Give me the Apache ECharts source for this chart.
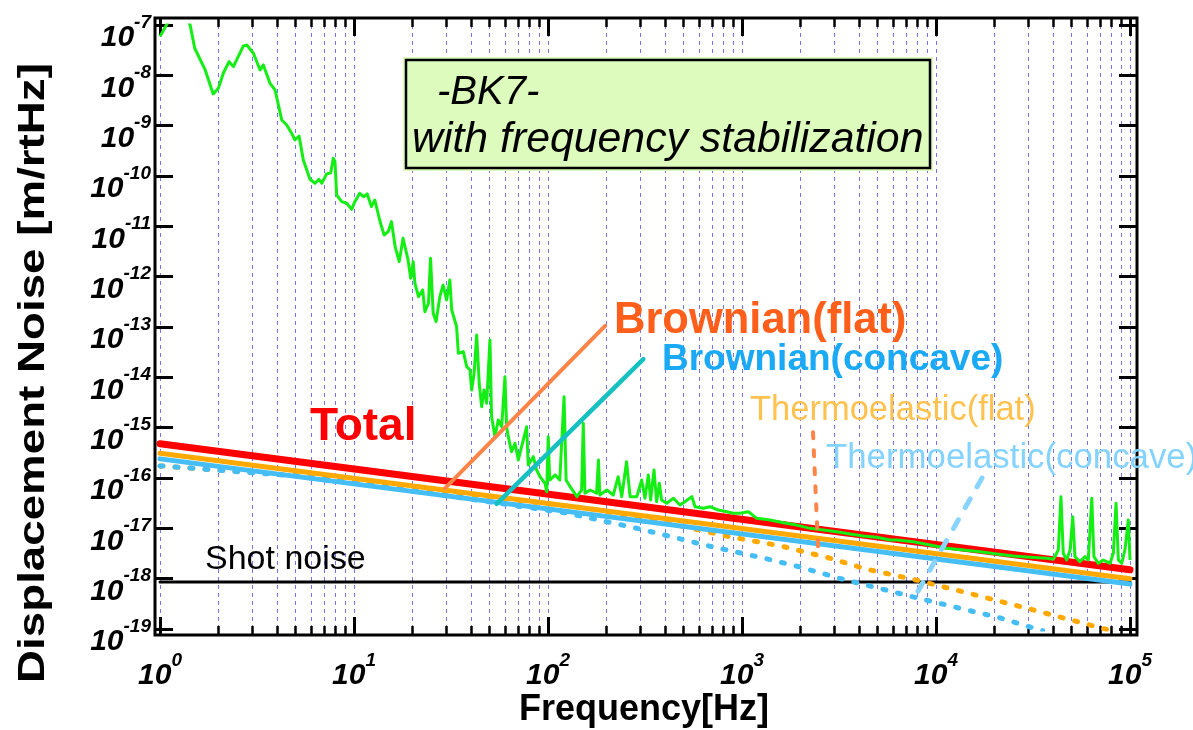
<!DOCTYPE html>
<html><head><meta charset="utf-8">
<script src="https://cdn.jsdelivr.net/npm/echarts@6/dist/echarts.min.js"></script>
<style>html,body{margin:0;padding:0;background:#fff}#c{width:1193px;height:730px}</style>
</head><body><div id="c"></div>
<script>
// ---- data (frequency in Hz, displacement noise in m/rtHz) ----
const xTicks = [1, 10, 100, 1000, 10000, 100000];
const yTicks = [1e-19, 1e-18, 1e-17, 1e-16, 1e-15, 1e-14, 1e-13, 1e-12, 1e-11, 1e-10, 1e-9, 1e-8, 1e-7];
const total = [[1, 4.8e-16], [1e5, 1.5e-18]];
const brownianFlat = [[1, 3.1e-16], [1e5, 1.0e-18]];
const brownianConcave = [[1, 2.4e-16], [1e5, 7.8e-19]];
const thermoFlat = [[1, 1.74e-16], [5.0, 1.12e-16], [15.8, 7.41e-17], [56, 3.98e-17], [158, 2.51e-17], [347, 1.48e-17], [871, 6.76e-18], [1585, 4.47e-18], [2818, 2.57e-18], [4365, 1.55e-18], [7586, 9.77e-19], [14450, 5.25e-19], [31620, 2.40e-19], [70790, 1.05e-19], [79430, 9.3e-20]];
const thermoConcave = [[1, 1.74e-16], [5.0, 1.10e-16], [15.8, 6.31e-17], [39.8, 3.80e-17], [126, 2.0e-17], [288, 1.0e-17], [708, 4.27e-18], [1288, 2.57e-18], [1995, 1.70e-18], [3162, 1.02e-18], [7943, 4.17e-19], [21380, 1.66e-19], [31620, 1.05e-19], [35480, 9.3e-20]];
const shotNoise = [[1, 8.6e-19], [1e5, 8.6e-19]];
const measured = [[1,5.9e-8],[1.08,1.0e-7],[1.25,3e-7],[1.43,1.0e-7],[1.51,3.45e-8],[1.71,1.28e-8],[1.88,4.27e-9],[2.0,5.53e-9],[2.12,1.1e-8],[2.27,1.87e-8],[2.39,1.49e-8],[2.53,2.35e-8],[2.69,3.83e-8],[2.8,4.01e-8],[3.03,2.74e-8],[3.28,1.28e-8],[3.41,1.61e-8],[3.69,6.95e-9],[3.92,5.12e-9],[4.24,1.3e-9],[4.5,1.03e-9],[4.77,7.06e-10],[4.96,5.2e-10],[5.21,6.24e-10],[5.48,2.08e-10],[5.93,8.61e-11],[6.3,7.18e-11],[6.6,8.61e-11],[6.82,7.18e-11],[7.23,1.1e-10],[7.59,1.16e-10],[7.82,2.25e-10],[7.98,1.93e-10],[8.14,4.2e-11],[8.64,3.09e-11],[9.17,2.87e-11],[9.73,2.18e-11],[10.1,3.09e-11],[10.7,4.54e-11],[11.2,3.88e-11],[11.7,4.4e-11],[12.3,2.46e-11],[12.8,3.34e-11],[13.3,1.82e-11],[13.7,1.15e-11],[14.3,6.73e-12],[15.0,7.83e-12],[15.6,1.24e-11],[16.3,3.94e-12],[17.1,1.99e-12],[17.9,5.79e-12],[19.0,2.15e-12],[19.6,9.29e-13],[20.2,1.99e-12],[20.6,7.4e-13],[21.5,4.01e-13],[22.6,5.45e-13],[23.2,2.01e-13],[24.2,2.96e-13],[24.8,2.32e-12],[25.6,1.87e-13],[26.5,1.28e-13],[27.7,4.01e-13],[28.8,6.84e-13],[30.0,3.44e-13],[31.2,8.59e-13],[31.9,2.18e-13],[33.8,1.01e-13],[34.5,3.01e-14],[36.6,3.24e-14],[38.1,1.63e-14],[39.6,1.4e-14],[40.4,5.61e-15],[41.6,1.2e-14],[42.9,6.93e-14],[44.2,7.62e-15],[45.5,2.61e-15],[46.8,5.61e-15],[48.3,3.05e-15],[50.2,5.52e-14],[51.2,1.65e-15],[53.3,6.62e-16],[55.4,1.42e-15],[56.6,1.53e-15],[57.7,1.04e-15],[60.0,1.03e-14],[61.2,1.04e-15],[62.4,6.62e-16],[64.9,3.33e-16],[67.6,4.9e-16],[70.3,2.28e-16],[73.1,4.19e-16],[77.6,1.04e-15],[79.1,1.81e-16],[84.0,2.65e-16],[87.4,1.44e-16],[91.0,1.06e-16],[96.5,7.85e-17],[98.5,5.35e-17],[100.3,6.62e-16],[102,9.12e-17],[109,1.15e-16],[115,9.12e-17],[121,4.13e-15],[124,9.12e-17],[130,6.71e-17],[141,4.26e-17],[149,5.78e-17],[152,1.22e-15],[155,4.97e-17],[165,5.78e-17],[178,4.97e-17],[182,2.28e-16],[185,4.59e-17],[201,5.78e-17],[217,4.59e-17],[230,1.06e-16],[240,4.26e-17],[254,2.11e-16],[265,4.26e-17],[287,4.26e-17],[304,9.12e-17],[316,3.95e-17],[329,1.15e-16],[338,3.66e-17],[352,1.44e-16],[363,3.38e-17],[375,7.85e-17],[385,3.66e-17],[409,3.14e-17],[443,3.95e-17],[479,2.91e-17],[508,3.38e-17],[551,4.26e-17],[573,2.69e-17],[632,2.5e-17],[684,2.69e-17],[755,2.31e-17],[834,2.14e-17],[902,1.99e-17],[977,1.99e-17],[1079,2.14e-17],[1191,1.58e-17],[1394,1.47e-17],[1633,1.29e-17],[1915,1.16e-17],[2242,1.0e-17],[2624,9.27e-18],[3077,8.57e-18],[3603,7.73e-18],[4217,7.05e-18],[4943,6.64e-18],[5794,5.86e-18],[6270,5.86e-18],[7638,5.43e-18],[9310,4.67e-18],[11350,4.01e-18],[13830,3.72e-18],[16870,3.44e-18],[20560,3.09e-18],[25020,2.82e-18],[30530,2.66e-18],[37220,2.54e-18],[40270,2.43e-18],[42700,3.72e-18],[44060,4.26e-17],[45290,3.19e-18],[47180,2.35e-18],[49090,3.72e-18],[50700,1.7e-17],[52030,2.74e-18],[55210,2.17e-18],[58590,2.74e-18],[60960,2.35e-18],[63530,3.95e-17],[65160,2.74e-18],[68700,2.02e-18],[72790,2.35e-18],[78890,2.02e-18],[82030,3.19e-18],[84720,3.14e-17],[87100,2.35e-18],[90600,2.02e-18],[94200,3.72e-18],[98000,1.47e-17],[100000,2.35e-18]];
// pointer lines from labels to curves
const ptrBrownianFlat = [[29.5, 6.3e-17], [197, 1.05e-13]];
const ptrBrownianConcave = [[54.4, 3.05e-17], [310, 2.3e-14]];
const ptrThermoFlat = [[2323, 8.1e-16], [2466, 4.3e-18]];
const ptrThermoConcave = [[17260, 1.0e-16], [7620, 3.8e-19]];

const FONT = '"Liberation Sans", Arial, Helvetica, sans-serif';
const gridLine = { color: '#7474ff', width: 1, type: [4, 4] };
const tickStyle = { color: '#000', width: 3 };
const minorStyle = { color: '#000', width: 2.5 };
const expFmt = v => '{b|10}{s|' + Math.round(Math.log10(v)) + '}';
const richLab = {
  b: { fontSize: 30, fontWeight: 'bold', fontStyle: 'italic', fontFamily: FONT, color: '#000', lineHeight: 30, verticalAlign: 'bottom' },
  s: { fontSize: 19, fontWeight: 'bold', fontStyle: 'italic', fontFamily: FONT, color: '#000', lineHeight: 40, verticalAlign: 'top' }
};

const chart = echarts.init(document.getElementById('c'));
function line(data, color, width, type, extra) {
  return Object.assign({ type: 'line', data, symbol: 'none', silent: true, clip: true,
    lineStyle: { color, width, type: type || 'solid', cap: 'round' } }, extra || {});
}
chart.setOption({
  animation: false,
  backgroundColor: '#fff',
  grid: { left: 160, right: 63, top: 25, bottom: 101 },
  xAxis: [
    { type: 'log', logBase: 10, min: 1, max: 1e5, splitNumber: 5, position: 'bottom', offset: 6,
      axisLine: { show: false },
      axisTick: { show: true, inside: true, length: 18, lineStyle: tickStyle, customValues: xTicks },
      minorTick: { show: true, splitNumber: 9, length: 9, lineStyle: minorStyle },
      axisLabel: { customValues: xTicks, margin: 16, formatter: expFmt, rich: richLab },
      splitLine: { show: true, lineStyle: gridLine },
      minorSplitLine: { show: true, lineStyle: gridLine } },
    { type: 'log', logBase: 10, min: 1, max: 1e5, splitNumber: 5, position: 'top', offset: 7,
      axisLine: { show: false },
      axisTick: { show: true, inside: true, length: 18, lineStyle: tickStyle, customValues: xTicks },
      minorTick: { show: true, splitNumber: 9, length: 9, lineStyle: minorStyle },
      axisLabel: { show: false }, splitLine: { show: false } }
  ],
  yAxis: [
    { type: 'log', logBase: 10, min: 1e-19, max: 1e-7, position: 'left', offset: 5,
      axisLine: { show: false },
      axisTick: { show: true, inside: true, length: 18, lineStyle: tickStyle, customValues: yTicks },
      axisLabel: { customValues: yTicks, margin: 4, formatter: expFmt, rich: richLab, padding: [16, 0, 0, 0] },
      splitLine: { show: false } },
    { type: 'log', logBase: 10, min: 1e-19, max: 1e-7, position: 'right', offset: 7,
      axisLine: { show: false },
      axisTick: { show: true, inside: true, length: 18, lineStyle: tickStyle, customValues: yTicks },
      axisLabel: { show: false }, splitLine: { show: false } }
  ],
  series: [
    line(shotNoise, '#000', 3, 'solid', { markLine: { silent: true, z: 1, symbol: 'none', label: { show: false },
      lineStyle: gridLine, data: yTicks.map(v => ({ yAxis: v })) } }),
    line(thermoFlat, '#ffa800', 5, [3, 12]),
    line(thermoConcave, '#45bdf5', 5, [3, 12]),
    line(brownianFlat, '#ffa800', 5),
    line(brownianConcave, '#45bdf5', 5),
    line(total, '#ff0000', 7),
    line(measured, '#14ee14', 3, 'solid', { lineStyle: { color: '#14ee14', width: 3, join: 'round' } }),
    line(ptrBrownianFlat, '#ff8447', 4),
    line(ptrBrownianConcave, '#14c0c0', 4.5),
    line(ptrThermoFlat, '#ff8447', 4, [6, 12]),
    line(ptrThermoConcave, '#88d4ff', 5, [10, 14])
  ],
  graphic: [
    { type: 'rect', z: 100, shape: { x: 155, y: 18, width: 982, height: 617 }, style: { fill: 'none', stroke: '#000', lineWidth: 3 } },
    { type: 'rect', z: 100, shape: { x: 403, y: 57, width: 530, height: 114 }, style: { fill: '#ddfbbd' } },
    { type: 'rect', z: 101, shape: { x: 406, y: 60, width: 524, height: 108 }, style: { fill: 'none', stroke: '#000', lineWidth: 2.5 } },
    { type: 'text', z: 102, x: 437, y: 93, style: { text: '-BK7-', font: 'italic 40px ' + FONT, fill: '#000', verticalAlign: 'middle' } },
    { type: 'text', z: 102, x: 412, y: 140, style: { text: 'with frequency stabilization', font: 'italic 42.8px ' + FONT, fill: '#000', verticalAlign: 'middle' } },
    { type: 'text', z: 102, x: 310, y: 427, style: { text: 'Total', font: 'bold 46px ' + FONT, fill: '#ff0000', verticalAlign: 'middle' } },
    { type: 'text', z: 102, x: 614, y: 321, style: { text: 'Brownian(flat)', font: 'bold 43.5px ' + FONT, fill: '#ff5f1a', verticalAlign: 'middle' } },
    { type: 'text', z: 102, x: 662, y: 360, style: { text: 'Brownian(concave)', font: 'bold 37px ' + FONT, fill: '#19a9f5', verticalAlign: 'middle' } },
    { type: 'text', z: 102, x: 750, y: 410, style: { text: 'Thermoelastic(flat)', font: '34.5px ' + FONT, fill: '#ffc24f', verticalAlign: 'middle' } },
    { type: 'text', z: 102, x: 826, y: 458, style: { text: 'Thermoelastic(concave)', font: '34.8px ' + FONT, fill: '#84d3ff', verticalAlign: 'middle' } },
    { type: 'text', z: 102, x: 205, y: 560, style: { text: 'Shot noise', font: '34px ' + FONT, fill: '#000', verticalAlign: 'middle' } },
    { type: 'text', z: 102, x: 644, y: 710, style: { text: 'Frequency[Hz]', font: 'bold 36px ' + FONT, fill: '#000', align: 'center', verticalAlign: 'middle' } },
    { type: 'text', z: 102, x: 34, y: 373, rotation: Math.PI / 2, scaleX: 1.27, style: { text: 'Displacement Noise [m/rtHz]', font: 'bold 36px ' + FONT, fill: '#000', align: 'center', verticalAlign: 'middle' } }
  ]
});
</script></body></html>
